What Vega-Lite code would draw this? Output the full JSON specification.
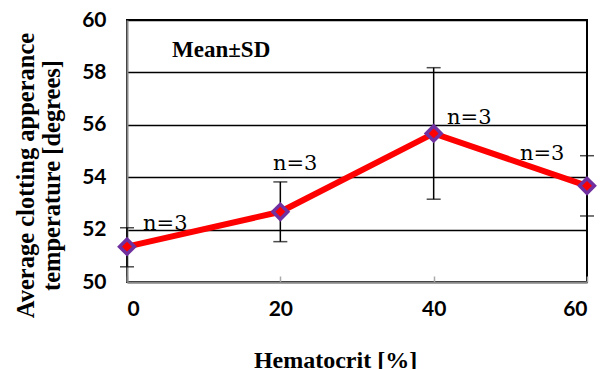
{
  "$schema": "https://vega.github.io/schema/vega-lite/v6.json",
  "width": 460,
  "height": 262,
  "autosize": {"type": "none"},
  "padding": {"left": 127, "top": 20, "right": 13, "bottom": 87},
  "background": "white",
  "config": {
    "view": {"stroke": "black", "strokeWidth": 2},
    "axis": {"grid": false}
  },
  "datasets": {
    "pts": [
      {"hct": 0, "mean": 51.35, "lo": 50.58, "hi": 52.07},
      {"hct": 20, "mean": 52.68, "lo": 51.54, "hi": 53.82},
      {"hct": 40, "mean": 55.67, "lo": 53.16, "hi": 58.18},
      {"hct": 60, "mean": 53.67, "lo": 52.52, "hi": 54.82}
    ],
    "labels": [
      {"lx": 2.09, "ly": 51.98, "txt": "n=3"},
      {"lx": 19.04, "ly": 54.27, "txt": "n=3"},
      {"lx": 41.74, "ly": 56.03, "txt": "n=3"},
      {"lx": 51.26, "ly": 54.66, "txt": "n=3"}
    ],
    "note": [{"lx": 5.87, "ly": 58.59, "txt": "Mean±SD"}]
  },
  "layer": [
    {
      "data": {"name": "pts"},
      "mark": {"type": "rule", "color": "black", "strokeWidth": 1.5},
      "encoding": {
        "x": {
          "field": "hct", "type": "quantitative",
          "scale": {"domain": [0, 60], "nice": false, "zero": false},
          "axis": {
            "values": [0, 20, 40, 60],
            "title": "Hematocrit [%]",
            "titleFont": "Liberation Serif", "titleFontWeight": "bold", "titleFontSize": 24, "titleColor": "black",
            "titleX": 208, "titleY": 85, "titleBaseline": "alphabetic", "titleAlign": "center", "titleAnchor": null,
            "labelFont": "Lato", "labelFontWeight": "bold", "labelFontSize": 21, "labelColor": "black",
            "labelPadding": 22, "labelBaseline": "top",
            "domainColor": "#888888", "domainWidth": 2,
            "ticks": true, "tickColor": "#aaaaaa", "tickSize": -6, "tickWidth": 1.5,
            "grid": false
          }
        },
        "y": {
          "field": "lo", "type": "quantitative",
          "scale": {"domain": [50, 60], "nice": false, "zero": false},
          "axis": {
            "values": [50, 52, 54, 56, 58, 60],
            "title": ["Average clotting  apperance", "temperature [degrees]"],
            "titleFont": "Liberation Serif", "titleFontWeight": "bold", "titleFontSize": 24.5, "titleColor": "black",
            "titleLineHeight": 26,
            "titleX": -113, "titleY": 155, "titleBaseline": "top", "titleAlign": "center", "titleAngle": -90, "titleAnchor": null,
            "labelFont": "Lato", "labelFontWeight": "bold", "labelFontSize": 21, "labelColor": "black",
            "labelPadding": 21,
            "domainColor": "#888888", "domainWidth": 2,
            "ticks": false,
            "grid": true, "gridColor": "black", "gridWidth": 1.5
          }
        },
        "y2": {"field": "hi"}
      }
    },
    {
      "data": {"name": "pts"},
      "mark": {"type": "tick", "orient": "horizontal", "color": "black", "size": 14, "thickness": 1.5},
      "encoding": {
        "x": {"field": "hct", "type": "quantitative"},
        "y": {"field": "lo", "type": "quantitative"}
      }
    },
    {
      "data": {"name": "pts"},
      "mark": {"type": "tick", "orient": "horizontal", "color": "black", "size": 14, "thickness": 1.5},
      "encoding": {
        "x": {"field": "hct", "type": "quantitative"},
        "y": {"field": "hi", "type": "quantitative"}
      }
    },
    {
      "data": {"name": "pts"},
      "mark": {"type": "line", "color": "#ff0000", "strokeWidth": 6},
      "encoding": {
        "x": {"field": "hct", "type": "quantitative"},
        "y": {"field": "mean", "type": "quantitative"}
      }
    },
    {
      "data": {"name": "pts"},
      "mark": {"type": "point", "shape": "diamond", "filled": true, "fill": "#ff0000", "stroke": "#7030a0", "strokeWidth": 3.5, "size": 220, "opacity": 1},
      "encoding": {
        "x": {"field": "hct", "type": "quantitative"},
        "y": {"field": "mean", "type": "quantitative"}
      }
    },
    {
      "data": {"name": "labels"},
      "mark": {"type": "text", "font": "DejaVu Serif", "fontSize": 21, "align": "left", "baseline": "alphabetic", "color": "black"},
      "encoding": {
        "x": {"field": "lx", "type": "quantitative"},
        "y": {"field": "ly", "type": "quantitative"},
        "text": {"field": "txt"}
      }
    },
    {
      "data": {"name": "note"},
      "mark": {"type": "text", "font": "Liberation Serif", "fontWeight": "bold", "fontSize": 23, "align": "left", "baseline": "alphabetic", "color": "black"},
      "encoding": {
        "x": {"field": "lx", "type": "quantitative"},
        "y": {"field": "ly", "type": "quantitative"},
        "text": {"field": "txt"}
      }
    }
  ]
}
